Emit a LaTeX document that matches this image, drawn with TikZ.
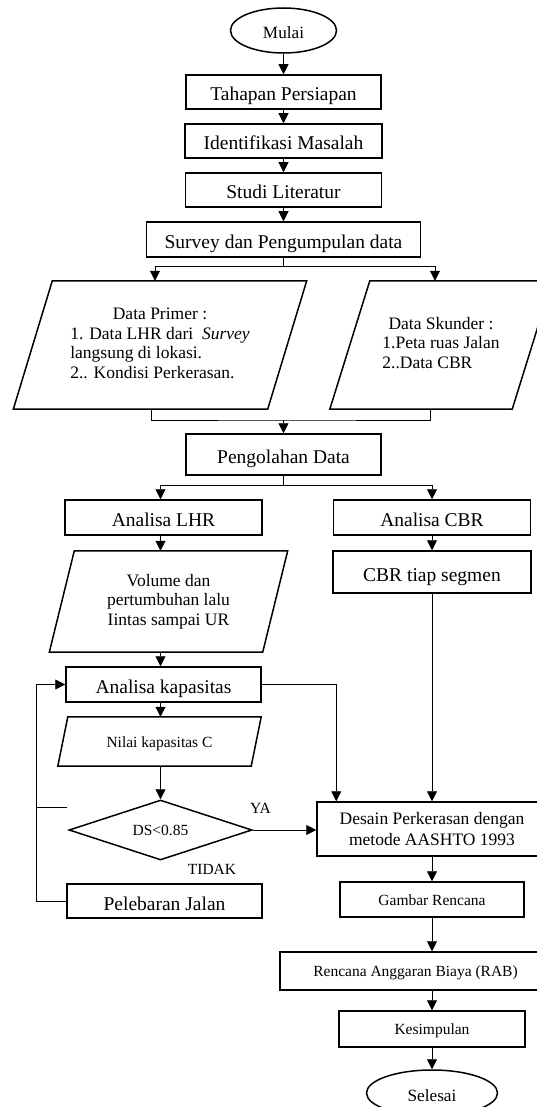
\documentclass[tikz,border=0pt]{standalone}
\usepackage{fontspec}
\setmainfont{Liberation Serif}
\usetikzlibrary{shapes.geometric, arrows.meta}

\begin{document}
\begin{tikzpicture}[x=1pt, y=-1pt, >={Triangle[width=10pt, length=10pt]},
	box/.style={draw, rectangle, line width=1.5pt, inner sep=0pt, text height=18pt, text depth=0pt, font=\fontsize{19.5}{22}\selectfont},
	smallbox/.style={box, text height=11pt, font=\fontsize{15.5}{18}\selectfont},
	terminal/.style={draw, ellipse, line width=1.5pt, inner sep=0pt, text height=17pt, text depth=0pt, font=\fontsize{17.2}{20}\selectfont},
	data/.style={rectangle, inner sep=0pt, font=\fontsize{17.5}{19.5}\selectfont},
	dataline/.style={line width=1.5pt},
	decision/.style={draw, diamond, aspect=3, line width=1.5pt, inner sep=0pt, text height=11pt, text depth=0pt, font=\fontsize{15.5}{18}\selectfont},
	note/.style={inner sep=0pt, text height=11pt, text depth=0pt, font=\fontsize{15.5}{18}\selectfont},
	line/.style={line width=0.8pt},
	arr/.style={line, ->}]

	\useasboundingbox (0,0) rectangle (537,1107);

	\node[terminal, minimum width=106pt, minimum height=45pt] (mulai) at (283.5,30.5) {Mulai};
	\node[box, minimum width=195pt, minimum height=34pt] (persiapan) at (283.5,92) {Tahapan Persiapan};
	\node[box, minimum width=197pt, minimum height=34pt] (identifikasi) at (283.5,141) {Identifikasi Masalah};
	\node[box, minimum width=196pt, minimum height=34pt] (studi) at (283.5,190) {Studi Literatur};
	\node[box, minimum width=274pt, minimum height=35pt] (survey) at (283.5,239.5) {Survey dan Pengumpulan data};

	\node[data, minimum width=254pt, minimum height=128pt] (primer) at (160,345)
		{\begin{tabular}{@{}l@{}}\multicolumn{1}{@{}c@{}}{Data Primer :}\\1. Data LHR dari\ \ \textit{Survey}\\langsung di lokasi.\\2.. Kondisi Perkerasan.\end{tabular}};
	\node[data, minimum width=182pt, minimum height=128pt] (skunder) at (441,345)
		{\begin{tabular}{@{}l@{}}\multicolumn{1}{@{}c@{}}{Data Skunder :}\\1.Peta ruas Jalan\\2..Data CBR\end{tabular}};

	\node[box, minimum width=195pt, minimum height=41pt] (olah) at (283.5,454.5) {Pengolahan Data};

	\node[box, minimum width=197pt, minimum height=35pt] (lhr) at (163.5,517.5) {Analisa LHR};
	\node[box, minimum width=197pt, minimum height=35pt] (cbr) at (432,517.5) {Analisa CBR};
	\node[data, align=center, minimum width=213pt, minimum height=101pt] (volume) at (168.5,601.5)
		{Volume dan\\pertumbuhan lalu\\Iintas sampai UR};
	\node[box, minimum width=198pt, minimum height=42pt] (segmen) at (432,572) {CBR tiap segmen};

	\node[box, minimum width=195pt, minimum height=35pt] (kapasitas) at (163.5,684.5) {Analisa kapasitas};
	\node[data, minimum width=193pt, minimum height=49pt, text height=11pt, text depth=0pt, font=\fontsize{15.5}{18}\selectfont] (nilai) at (159.5,741.5) {Nilai kapasitas C};
	\node[decision, minimum width=183pt, minimum height=60pt] (dia) at (160.5,830) {DS<0.85};
	\node[box, minimum width=195pt, minimum height=34pt] (pelebaran) at (164.5,901) {Pelebaran Jalan};
	\node[note] (ya) at (260.5,808) {YA};
	\node[note] (tidak) at (212,869) {TIDAK};

	\node[box, align=center, text height=, text depth=, minimum width=230pt, minimum height=54pt, font=\fontsize{17.5}{21}\selectfont] (desain) at (432,829)
		{Desain Perkerasan dengan\\metode AASHTO 1993};
	\node[smallbox, minimum width=184pt, minimum height=35pt] (gambar) at (432,899.5) {Gambar Rencana};
	\node[smallbox, minimum width=271pt, minimum height=38pt] (rab) at (415.5,971) {Rencana Anggaran Biaya (RAB)};
	\node[smallbox, minimum width=186pt, minimum height=36pt] (kesimpulan) at (432,1029) {Kesimpulan};
	\node[terminal, minimum width=131pt, minimum height=46pt] (selesai) at (432,1093) {Selesai};

	\draw[dataline] ([xshift=-19.5pt]primer.south west) -- ([xshift=-19.5pt]primer.south east) -- ([xshift=19.5pt]primer.north east) -- ([xshift=19.5pt]primer.north west) -- cycle;
	\draw[dataline] ([xshift=-20pt]skunder.south west) -- ([xshift=-20pt]skunder.south east) -- ([xshift=20pt]skunder.north east) -- ([xshift=20pt]skunder.north west) -- cycle;
	\draw[dataline] ([xshift=-12.5pt]volume.south west) -- ([xshift=-12.5pt]volume.south east) -- ([xshift=12.5pt]volume.north east) -- ([xshift=12.5pt]volume.north west) -- cycle;
	\draw[dataline] ([xshift=-5pt]nilai.south west) -- ([xshift=-5pt]nilai.south east) -- ([xshift=5pt]nilai.north east) -- ([xshift=5pt]nilai.north west) -- cycle;

	\coordinate (split1) at (283.5,266);
	\coordinate (merge1) at (283.5,420);
	\coordinate (split2) at (283.5,485);
	\coordinate (stub) at (67,807);

	\draw[arr] (mulai) -- (persiapan);
	\draw[arr] (persiapan) -- (identifikasi);
	\draw[arr] (identifikasi) -- (studi);
	\draw[arr] (studi) -- (survey);
	\draw[line] (survey) -- (split1);
	\draw[arr] (split1) -| ([xshift=-5pt]primer.north);
	\draw[arr] (split1) -| ([xshift=-6pt]skunder.north);
	\draw[line] ([xshift=-9pt]primer.south) |- (merge1) -| ([xshift=-11pt]skunder.south);
	\draw[arr] (merge1) -- (olah);
	\draw[line] (olah) -- (split2);
	\draw[arr] (split2) -| (lhr.north -| dia);
	\draw[arr] (split2) -| (cbr.north);

	\draw[arr] (lhr.south -| dia) -- (volume.north -| dia);
	\draw[arr] (volume.south -| dia) -- (kapasitas.north -| dia);
	\draw[arr] (kapasitas.south -| dia) -- (nilai.north -| dia);
	\draw[arr] (nilai.south -| dia) -- (dia);
	\draw[arr] (dia) -- (dia -| desain.west);
	\draw[arr] (pelebaran.west) -- ++(-30,0) |- (kapasitas.west);
	\draw[line] (stub) -- ++(-30,0);
	\draw[arr] (kapasitas) -| ([xshift=20pt]desain.north west);

	\draw[arr] (cbr) -- (segmen);
	\draw[arr] (segmen) -- (desain);
	\draw[arr] (desain) -- (gambar);
	\draw[arr] (gambar) -- (gambar |- rab.north);
	\draw[arr] (rab.south -| kesimpulan) -- (kesimpulan);
	\draw[arr] (kesimpulan) -- (selesai);

\end{tikzpicture}
\end{document}
